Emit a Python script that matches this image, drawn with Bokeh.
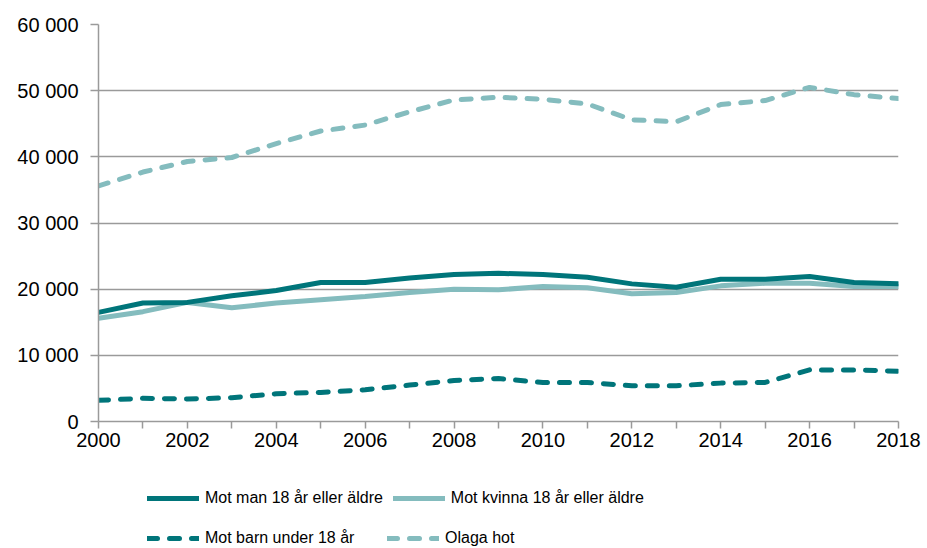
from bokeh.plotting import figure
from bokeh.layouts import column
from bokeh.models import Range1d, FixedTicker, Legend, LegendItem
from bokeh.embed import file_html
from bokeh.resources import INLINE

years = list(range(2000, 2019))
mot_man = [16500, 17900, 18000, 19000, 19800, 21000, 21000, 21700, 22200, 22400,
           22200, 21800, 20800, 20300, 21500, 21500, 21900, 21000, 20800]
mot_kvinna = [15600, 16600, 18000, 17200, 17900, 18400, 18900, 19500, 20000, 19900,
              20400, 20200, 19300, 19500, 20500, 20900, 20900, 20400, 20400]
mot_barn = [3200, 3500, 3400, 3600, 4200, 4400, 4800, 5500, 6200, 6500,
            5900, 5900, 5400, 5400, 5800, 5900, 7800, 7800, 7600]
olaga_hot = [35600, 37700, 39300, 39900, 42000, 43900, 44800, 46800, 48600, 49000,
             48700, 48000, 45600, 45300, 47900, 48500, 50500, 49400, 48800]

series_names = ["Mot man 18 år eller äldre", "Mot kvinna 18 år eller äldre",
                "Mot barn under 18 år", "Olaga hot"]

y_ticks = [0, 10000, 20000, 30000, 40000, 50000, 60000]
y_tick_labels = ["0", "10 000", "20 000", "30 000", "40 000", "50 000", "60 000"]
x_tick_labels = {y: (str(y) if y % 2 == 0 else "") for y in years}

DARK = "#00757A"
LIGHT = "#84BCBE"
GRID = "#9a9a9a"
FONT = "Liberation Sans"

styles = [dict(line_color=DARK, line_width=5, line_cap="round"),
          dict(line_color=LIGHT, line_width=5, line_cap="round"),
          dict(line_color=DARK, line_width=5, line_dash="10 12", line_cap="round"),
          dict(line_color=LIGHT, line_width=5, line_dash="10 12", line_cap="round")]
series = [mot_man, mot_kvinna, mot_barn, olaga_hot]

# ---- main chart ----
p = figure(width=927, height=460, output_backend="svg", toolbar_location=None,
           x_range=Range1d(2000, 2018), y_range=Range1d(0, 60000),
           min_border_left=98, min_border_right=29, min_border_top=24,
           min_border_bottom=39)
p.outline_line_color = None
p.background_fill_color = "white"
p.border_fill_color = "white"

p.xgrid.grid_line_color = None
p.ygrid.grid_line_color = GRID
p.ygrid.grid_line_width = 1.5
p.ygrid.ticker = FixedTicker(ticks=y_ticks)

p.yaxis.ticker = FixedTicker(ticks=y_ticks)
p.yaxis.major_label_overrides = {t: l for t, l in zip(y_ticks, y_tick_labels)}
p.xaxis.ticker = FixedTicker(ticks=years)
p.xaxis.major_label_overrides = x_tick_labels

for ax in (p.xaxis[0], p.yaxis[0]):
    ax.axis_line_color = GRID
    ax.axis_line_width = 1.5
    ax.major_tick_line_color = GRID
    ax.major_tick_line_width = 1.5
    ax.major_tick_in = 0
    ax.minor_tick_line_color = None
    ax.major_label_text_font = FONT
    ax.major_label_text_font_size = "20px"
    ax.major_label_text_color = "black"
p.yaxis.major_tick_out = 8
p.yaxis.major_label_standoff = 12
p.xaxis.major_tick_out = 7
p.xaxis.major_label_standoff = 4

# draw order: dashed first, dark solid on top
for i in [3, 2, 1, 0]:
    p.line(years, series[i], **styles[i])

# ---- legend strip (separate figure, same series styles) ----
lf = figure(width=927, height=88, output_backend="svg", toolbar_location=None,
            x_range=Range1d(0, 1), y_range=Range1d(0, 1),
            x_axis_type=None, y_axis_type=None, min_border=0)
lf.outline_line_color = None
lf.xgrid.grid_line_color = None
lf.ygrid.grid_line_color = None
lf_renderers = [lf.line(years, series[i], **styles[i]) for i in range(4)]


def make_legend(idx, loc):
    lg = Legend(items=[LegendItem(label=series_names[i], renderers=[lf_renderers[i]]) for i in idx],
                orientation="horizontal", location=loc)
    lg.border_line_color = None
    lg.background_fill_alpha = 0
    lg.label_text_font = FONT
    lg.label_text_font_size = "16px"
    lg.label_text_color = "black"
    lg.glyph_width = 52
    lg.glyph_height = 20
    lg.label_height = 20
    lg.label_width = 172
    lg.label_standoff = 6
    lg.spacing = 10
    lg.padding = 0
    lg.margin = 0
    return lg


lf.add_layout(make_legend([0, 1], (49, 40)), "center")
lf.add_layout(make_legend([2, 3], (49, 0)), "center")

layout = column(p, lf, spacing=0)
open("out.html", "w").write(file_html(layout, INLINE))
